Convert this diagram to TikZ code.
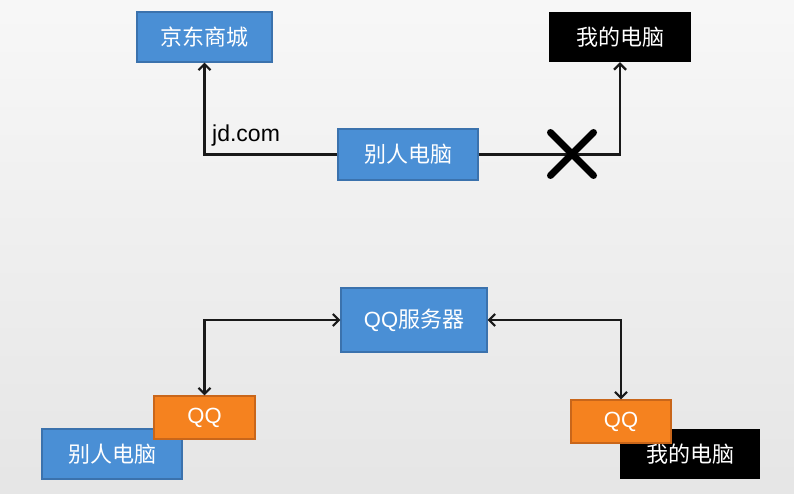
\documentclass[tikz,border=0pt]{standalone}
\usepackage{fontspec}
\setmainfont{Noto Sans CJK SC}
\newfontfamily\latinfont{Liberation Sans}
\usetikzlibrary{arrows.meta,shapes.misc}
\definecolor{bxblue}{HTML}{4A8FD5}
\definecolor{bxblueline}{HTML}{3B72AD}
\definecolor{bxorange}{HTML}{F5821F}
\definecolor{bxorangeline}{HTML}{C9661A}
\tikzset{
  boxfont/.style={font=\fontsize{22}{26}\selectfont},
  bluebox/.style={rectangle, fill=bxblue, draw=bxblueline, line width=1.2, text=white, inner sep=0, boxfont},
  blackbox/.style={rectangle, fill=black, text=white, inner sep=0, boxfont},
  orangebox/.style={rectangle, fill=bxorange, draw=bxorangeline, line width=1.2, text=white, inner sep=0, boxfont},
  link/.style={line width=2.5, draw=black!90, -{Straight Barb[length=6,width=12,line width=2.2]}},
  dlink/.style={line width=2.5, draw=black!90, {Straight Barb[length=6,width=12,line width=2.2]}-{Straight Barb[length=6,width=12,line width=2.2]}},
}
\begin{document}
\begin{tikzpicture}[x=1pt,y=-1pt]
\useasboundingbox (0,0) rectangle (794,494);
\shade[top color=white!97!black, bottom color=white!90!black] (0,0) rectangle (794,494);
% top part
\node (jd) [bluebox, minimum width=135, minimum height=50] at (204.5,37) {京东商城};
\node (mine) [blackbox, minimum width=142, minimum height=50] at (620,37) {我的电脑};
\node (other) [bluebox, minimum width=140, minimum height=51] at (408,154.5) {别人电脑};
\draw[link] (other.west) -| (jd.south);
\draw[link] (other.east) -| (mine.south);
\node (jdlabel) [anchor=south west, inner sep=0, font=\latinfont\fontsize{23}{26}\selectfont] at (212,146) {jd.com};
\node (cross) [cross out, draw=black, line width=7, line cap=round, minimum size=36, inner sep=0] at (572,154) {};
% bottom part
\node (server) [bluebox, minimum width=146, minimum height=64] at (414,320) {\latinfont QQ\normalfont 服务器};
\node (pcL) [bluebox, minimum width=140, minimum height=50] at (112,454) {别人电脑};
\node (qqL) [orangebox, minimum width=101, minimum height=43] at (204.5,417.5) {\latinfont QQ};
\node (pcR) [blackbox, minimum width=140, minimum height=50] at (690,454) {我的电脑};
\node (qqR) [orangebox, minimum width=100, minimum height=43] at (621,421.5) {\latinfont QQ};
\draw[dlink] (qqL.north) |- (server.west);
\draw[dlink] (server.east) -| (qqR.north);
\end{tikzpicture}
\end{document}
